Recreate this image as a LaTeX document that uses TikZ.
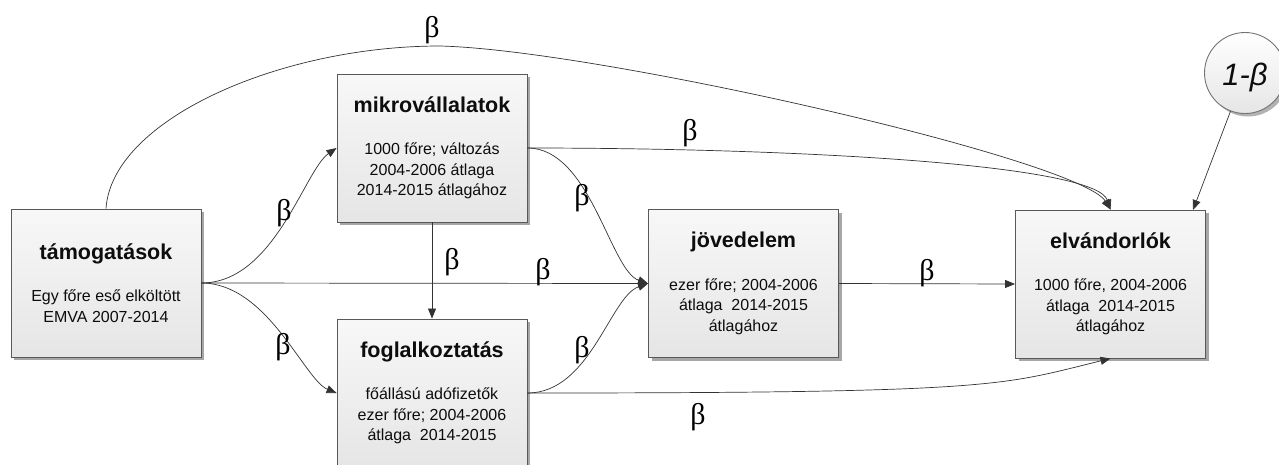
\documentclass[tikz,border=0pt]{standalone}
\usepackage{fontspec}
\setmainfont{Liberation Sans}
\newfontfamily\betafont{Liberation Serif}
\usetikzlibrary{arrows.meta,shadows}
\newcommand\boxtitle[1]{{\fontsize{21.5}{24}\selectfont\bfseries #1}}
\begin{document}
\begin{tikzpicture}[x=1pt,y=-1pt,
  box/.style={draw=black!65, line width=0.9pt, top color=white!97!black, bottom color=black!10,
    minimum width=190pt, minimum height=148pt, inner sep=0pt, align=center,
    font=\fontsize{16}{20.5}\selectfont, text=black!95,
    drop shadow={shadow xshift=3pt,shadow yshift=-3pt,fill=black!35,opacity=1}},
  circ/.style={circle, draw=black!55, line width=0.9pt, top color=white, bottom color=black!10,
    minimum size=81pt, inner sep=0pt, font=\fontsize{31}{31}\selectfont\itshape, text=black!95,
    drop shadow={shadow xshift=3pt,shadow yshift=-3pt,fill=black!30,opacity=1}},
  conn/.style={draw=black!80, line width=0.7pt, -{Triangle[length=10pt,width=8pt]}},
  lbl/.style={font=\betafont\fontsize{30}{30}\selectfont, inner sep=0pt, text=black},
]
\useasboundingbox (0,0) rectangle (1279,464);
\clip (0,0) rectangle (1279,464);

\node[box] (tam) at (106,283) {\boxtitle{támogatások}\\[22pt]Egy főre eső elköltött\\EMVA 2007-2014};
\node[box] (mik) at (432,148) {\boxtitle{mikrovállalatok}\\[22pt]1000 főre; változás\\2004-2006 átlaga\\2014-2015 átlagához};
\node[box] (fog) at (432,393) {\boxtitle{foglalkoztatás}\\[22pt]főállású adófizetők\\ezer főre; 2004-2006\\átlaga~~2014-2015};
\node[box] (jov) at (743.5,283.5) {\boxtitle{jövedelem}\\[22pt]ezer főre; 2004-2006\\átlaga~~2014-2015\\átlagához};
\node[box] (elv) at (1110.5,284) {\boxtitle{elvándorlók}\\[22pt]1000 főre, 2004-2006\\átlaga~~2014-2015\\átlagához};
\node[circ] (egy) at (1245,73) {\raisebox{-4pt}[\height][\depth]{1-β}};

\coordinate (apex) at (440,46);
\coordinate (elvin) at (1193,210);

\draw[conn] (tam.north) .. controls +(6,-89) and (280,46) .. (apex)
  .. controls (600,50) and (1080,160) .. (elv.north);
\draw[conn] (tam.east) .. controls +(73,0) and +(-32,22) .. (mik.west);
\draw[conn] (tam.east) .. controls +(66,0) and +(-32,-13) .. (fog.west);
\draw[conn] (tam.east) -- (jov.west);
\draw[conn] (mik.south) -- (fog.north);
\draw[conn] (mik.east) .. controls +(63,0) and +(-38,-13) .. (jov.west);
\draw[conn] (fog.east) .. controls +(63,0) and +(-38,13) .. (jov.west);
\draw[conn] (mik.east) .. controls +(273,0) and +(-15,-45) .. (elv.north);
\draw[conn] (fog.east) .. controls +(473,0) and +(-110,27) .. (elv.south);
\draw[conn] (jov.east) -- (elv.west);
\draw[conn] (egy) -- (elvin);

\node[lbl] (b1) at (432,30) {β};
\node[lbl] (b2) at (690,133) {β};
\node[lbl] (b3) at (284,213) {β};
\node[lbl] (b4) at (283,347) {β};
\node[lbl] (b5) at (582,198) {β};
\node[lbl] (b6) at (452,262) {β};
\node[lbl] (b7) at (543,272) {β};
\node[lbl] (b8) at (582,350) {β};
\node[lbl] (b9) at (927,273) {β};
\node[lbl] (b10) at (698,417) {β};
\end{tikzpicture}
\end{document}
